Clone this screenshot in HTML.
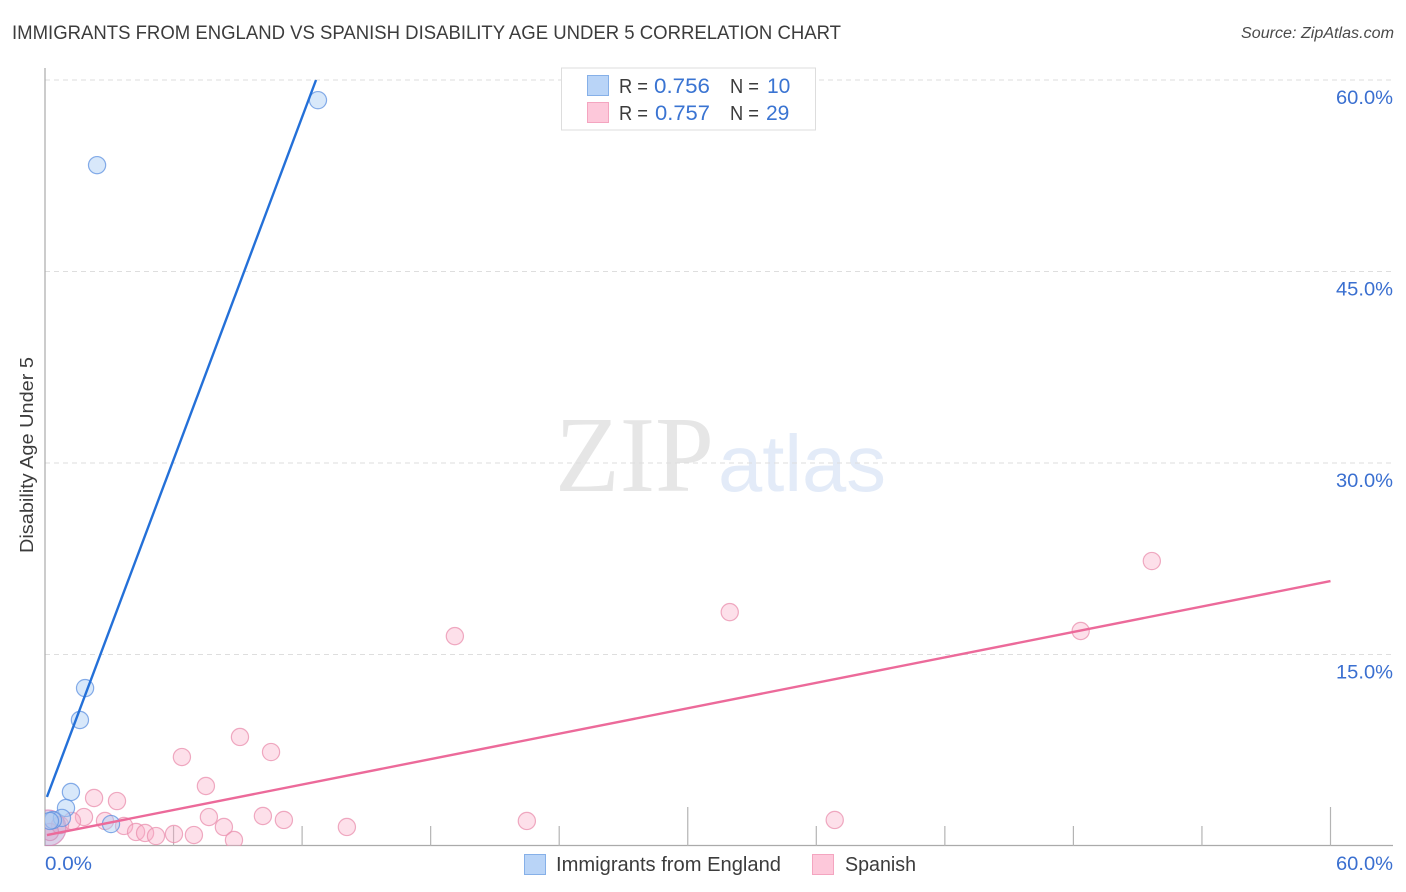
<!DOCTYPE html>
<html lang="en">
<head>
<meta charset="utf-8">
<title>Immigrants from England vs Spanish Disability Age Under 5 Correlation Chart</title>
<style>
html,body{margin:0;padding:0;background:#fff;}
svg{display:block;}
text{font-family:"Liberation Sans",sans-serif;}
</style>
</head>
<body>
<svg id="chart" xmlns="http://www.w3.org/2000/svg" width="1406" height="892" viewBox="0 0 1406 892">
  <defs>
    <clipPath id="plot-clip"><rect x="45" y="68" width="1348" height="778"/></clipPath>
  </defs>
  <rect x="0" y="0" width="1406" height="892" fill="#ffffff"/>
  <text x="12" y="39" font-size="19" fill="#3c3c3c" textLength="829" lengthAdjust="spacingAndGlyphs">IMMIGRANTS FROM ENGLAND VS SPANISH DISABILITY AGE UNDER 5 CORRELATION CHART</text>
  <text x="1241" y="38" font-size="15.5" font-style="italic" fill="#4a4a4a" textLength="153" lengthAdjust="spacingAndGlyphs">Source: ZipAtlas.com</text>
  <text x="555" y="491" font-size="108" fill="#e6e6e6" textLength="159" lengthAdjust="spacingAndGlyphs" style="font-family:'Liberation Serif',serif">ZIP</text>
  <text x="718" y="491" font-size="80" fill="#e3ebf8" textLength="168" lengthAdjust="spacingAndGlyphs">atlas</text>
  <g id="grid"></g>
  <g id="axes"></g>
  <g id="points-spanish" clip-path="url(#plot-clip)"></g>
  <g id="points-england" clip-path="url(#plot-clip)"></g>
  <g id="trends" clip-path="url(#plot-clip)"></g>
  <g id="tick-labels"></g>
  <text transform="translate(33,455) rotate(-90)" font-size="18.5" fill="#3c3c3c" text-anchor="middle" textLength="196" lengthAdjust="spacingAndGlyphs">Disability Age Under 5</text>

  <g>
    <rect x="561.5" y="68" width="254" height="62" fill="#ffffff" stroke="#dddddd" stroke-width="1"/>
    <rect x="587.5" y="75.5" width="21" height="20" fill="#b9d4f7" stroke="#86b0e8" stroke-width="1"/>
    <rect x="587.5" y="102.5" width="21" height="20" fill="#fdc8da" stroke="#f4a5c0" stroke-width="1"/>
    <text x="619" y="93" font-size="20" fill="#3c3c3c" textLength="29" lengthAdjust="spacingAndGlyphs">R =</text>
    <text x="654" y="93" font-size="21" fill="#3a74d2" textLength="56" lengthAdjust="spacingAndGlyphs">0.756</text>
    <text x="730" y="93" font-size="20" fill="#3c3c3c" textLength="29" lengthAdjust="spacingAndGlyphs">N =</text>
    <text x="767" y="93" font-size="21" fill="#3a74d2">10</text>
    <text x="619" y="120" font-size="20" fill="#3c3c3c" textLength="29" lengthAdjust="spacingAndGlyphs">R =</text>
    <text x="655" y="120" font-size="21" fill="#3a74d2" textLength="55" lengthAdjust="spacingAndGlyphs">0.757</text>
    <text x="730" y="120" font-size="20" fill="#3c3c3c" textLength="29" lengthAdjust="spacingAndGlyphs">N =</text>
    <text x="766" y="120" font-size="21" fill="#3a74d2">29</text>
  </g>

  <g>
    <rect x="524.5" y="854.5" width="21" height="20" fill="#b9d4f7" stroke="#86b0e8" stroke-width="1"/>
    <text x="556" y="871" font-size="20" fill="#3c3c3c" textLength="225" lengthAdjust="spacingAndGlyphs">Immigrants from England</text>
    <rect x="812.5" y="854.5" width="21" height="20" fill="#fdc8da" stroke="#f4a5c0" stroke-width="1"/>
    <text x="845" y="871" font-size="20" fill="#3c3c3c" textLength="71" lengthAdjust="spacingAndGlyphs">Spanish</text>
  </g>
</svg>
<script>
var yTickValues = [15, 30, 45, 60];
var yTickLabels = ["15.0%", "30.0%", "45.0%", "60.0%"];
var xTickValues = [0, 6, 12, 18, 24, 30, 36, 42, 48, 54, 60];
var xMajorTickValues = [0, 30, 60];
var xEndValues = [0, 60];
var xEndLabels = ["0.0%", "60.0%"];

var englandX = [2.43, 12.74, 1.87, 1.63, 1.21, 0.98, 0.79, 3.08, 0.37, 0.23];
var englandY = [53.33, 58.42, 12.37, 9.87, 4.23, 2.98, 2.20, 1.72, 2.03, 1.96];
var spanishX = [19.13, 31.96, 51.66, 48.34, 9.10, 6.39, 10.55, 7.51, 2.29, 3.36, 1.82, 1.26, 2.80, 3.69, 4.25, 4.67, 5.18, 6.02, 6.95, 7.65, 8.35, 8.82, 10.17, 11.15, 14.09, 22.49, 36.86, 0.70, 0.23];
var spanishY = [16.44, 18.32, 22.32, 16.84, 8.54, 6.97, 7.36, 4.70, 3.76, 3.52, 2.27, 1.96, 1.96, 1.57, 1.10, 1.02, 0.78, 0.94, 0.86, 2.27, 1.49, 0.47, 2.35, 2.04, 1.49, 1.96, 2.04, 1.64, 1.10];
var overlapClusterX = [0.14];
var overlapClusterY = [1.41];
var englandTrendX = [0.09, 12.65];
var englandTrendY = [3.84, 60];
var spanishTrendX = [0.09, 60];
var spanishTrendY = [0.86, 20.75];

var SVG_NS = 'http://www.w3.org/2000/svg';
function xScale(v) { return 45 + v * (1330.5 - 45) / 60; }
function yScale(v) { return 846 - v * (846 - 80) / 60; }
function make(tag, attrs, parent) {
  var el = document.createElementNS(SVG_NS, tag);
  for (var k in attrs) { el.setAttribute(k, attrs[k]); }
  parent.appendChild(el);
  return el;
}

var grid = document.getElementById('grid');
var axes = document.getElementById('axes');
var labels = document.getElementById('tick-labels');
var spanishLayer = document.getElementById('points-spanish');
var englandLayer = document.getElementById('points-england');
var trends = document.getElementById('trends');

yTickValues.forEach(function (v, i) {
  var line = make('line', {x1: 45, x2: 1393, y1: yScale(v), y2: yScale(v), stroke: '#dedede', 'stroke-width': 1, 'stroke-dasharray': '5 4'}, grid);
  
  
  var t = make('text', {x: 1336, y: yScale(v) + 24, 'font-size': 19.5, fill: '#3a6fd0', textLength: 57, lengthAdjust: 'spacingAndGlyphs'}, labels);
  t.textContent = yTickLabels[i];
  
  
});

var yAxis = make('line', {x1: 45, x2: 45, y1: 68, y2: 846, stroke: '#aaaaaa', 'stroke-width': 1.2}, axes);


var xAxis = make('line', {x1: 44.5, x2: 1393, y1: 845.5, y2: 845.5, stroke: '#aaaaaa', 'stroke-width': 1.2}, axes);



xTickValues.forEach(function (v) {
  var major = xMajorTickValues.indexOf(v) >= 0;
  var tick = make('line', {x1: xScale(v), x2: xScale(v), y1: major ? 807 : 826, y2: 846, stroke: '#b4b4b4', 'stroke-width': 1.2}, axes);
  
  
});

xEndValues.forEach(function (v, i) {
  var t = make('text', {x: i === 0 ? xScale(v) : 1336, y: 870, 'font-size': 19.5, fill: '#3a6fd0', textLength: i === 0 ? 47 : 57, lengthAdjust: 'spacingAndGlyphs'}, labels);
  t.textContent = xEndLabels[i];
  
  
});

spanishX.forEach(function (v, i) {
  var c = make('circle', {cx: xScale(v), cy: yScale(spanishY[i]), r: 8.6, fill: '#f9a8c4', 'fill-opacity': 0.36, stroke: '#ea8fae', 'stroke-opacity': 0.75, 'stroke-width': 1.2}, spanishLayer);
  
  
});

overlapClusterX.forEach(function (v, i) {
  var c = make('circle', {cx: xScale(v), cy: yScale(overlapClusterY[i]), r: 18, fill: '#a98ec9', 'fill-opacity': 0.42, stroke: '#d87fb0', 'stroke-opacity': 0.7, 'stroke-width': 1.2}, spanishLayer);
  
  
});

englandX.forEach(function (v, i) {
  var c = make('circle', {cx: xScale(v), cy: yScale(englandY[i]), r: 8.6, fill: '#a9cbf5', 'fill-opacity': 0.45, stroke: '#5f92e0', 'stroke-opacity': 0.75, 'stroke-width': 1.2}, englandLayer);
  
  
});

var englandLine = make('line', {x1: xScale(englandTrendX[0]), y1: yScale(englandTrendY[0]), x2: xScale(englandTrendX[1]), y2: yScale(englandTrendY[1]), stroke: '#2470d8', 'stroke-width': 2.4}, trends);


var spanishLine = make('line', {x1: xScale(spanishTrendX[0]), y1: yScale(spanishTrendY[0]), x2: xScale(spanishTrendX[1]), y2: yScale(spanishTrendY[1]), stroke: '#ec6a9a', 'stroke-width': 2.4}, trends);


</script>
</body>
</html>
